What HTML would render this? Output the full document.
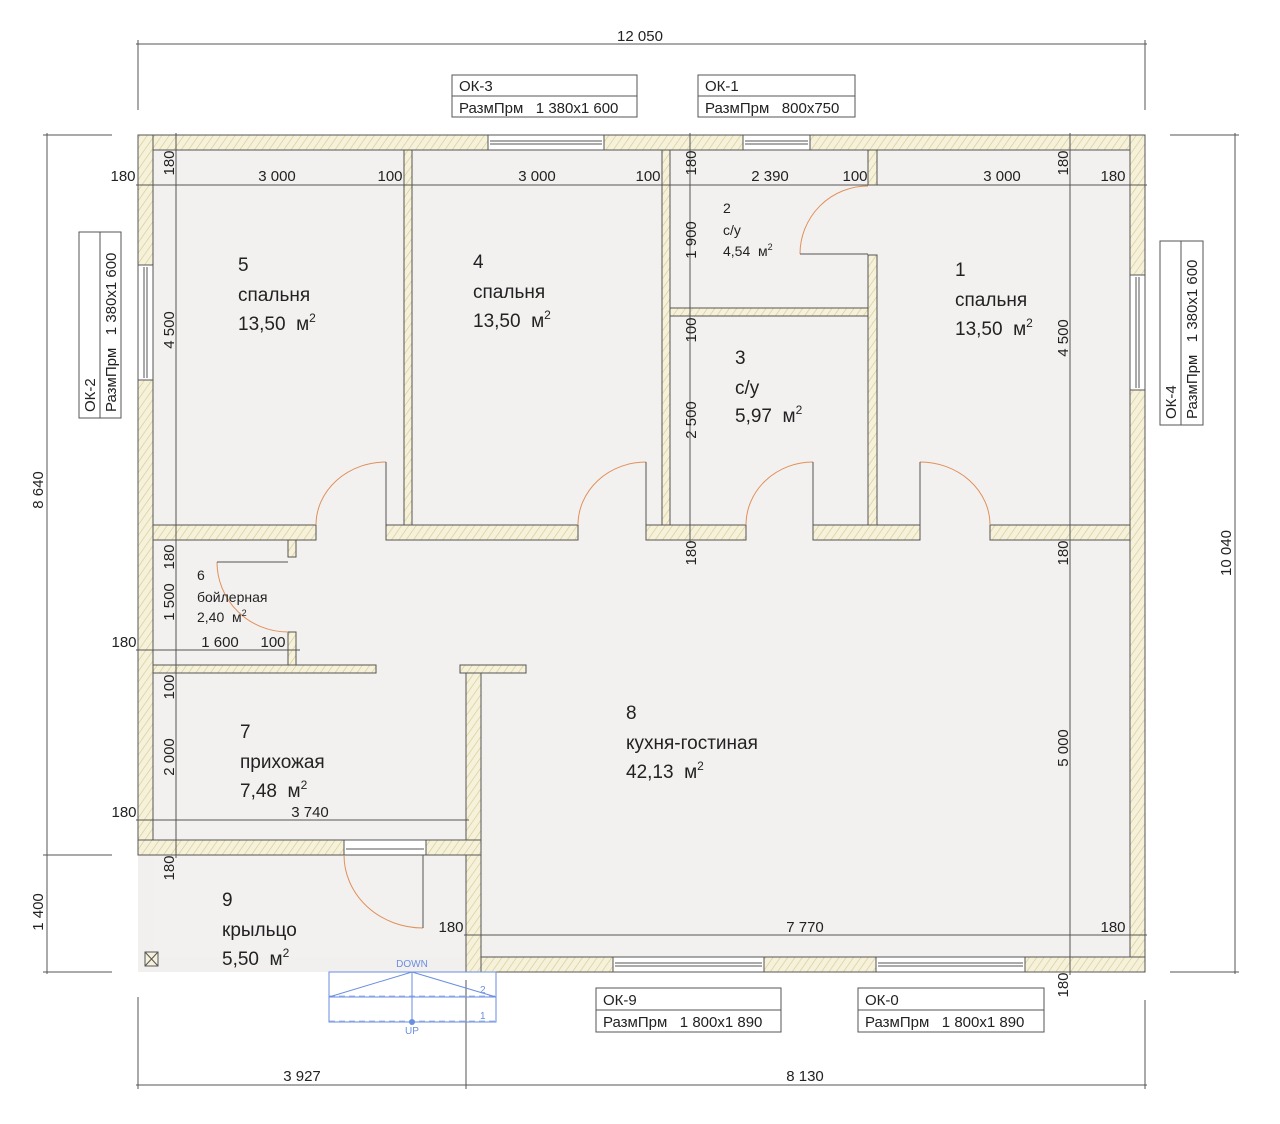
<!DOCTYPE html>
<html><head><meta charset="utf-8"><style>
html,body{margin:0;padding:0;background:#fff;}
svg{display:block;}
text{font-family:"Liberation Sans",sans-serif;fill:#222;white-space:pre;}
</style></head><body>
<svg width="1280" height="1124" viewBox="0 0 1280 1124" xmlns="http://www.w3.org/2000/svg" xml:space="preserve">
<defs>
<pattern id="h" width="6" height="6" patternUnits="userSpaceOnUse" patternTransform="rotate(35)">
<rect width="6" height="6" fill="#f6f1da"/>
<line x1="0" y1="0" x2="0" y2="6" stroke="#d6cb92" stroke-width="1.3"/>
</pattern>
</defs>
<rect x="138" y="855" width="328" height="117" fill="#f2f0ef"/>
<rect x="153" y="150" width="977" height="807" fill="#f3f1f0"/>
<g fill="url(#h)" stroke="#555" stroke-width="1">
<rect x="138" y="135" width="1007" height="15"/>
<rect x="138" y="135" width="15" height="720"/>
<rect x="1130" y="135" width="15" height="837"/>
<rect x="466" y="957" width="679" height="15"/>
<rect x="466" y="673" width="15" height="299"/>
<rect x="138" y="840" width="206" height="15"/>
<rect x="426" y="840" width="55" height="15"/>
<rect x="404" y="150" width="8" height="375"/>
<rect x="662" y="150" width="8" height="375"/>
<rect x="670" y="308" width="198" height="8"/>
<rect x="868" y="150" width="9" height="35"/>
<rect x="868" y="255" width="9" height="270"/>
<rect x="153" y="525" width="163" height="15"/>
<rect x="386" y="525" width="192" height="15"/>
<rect x="646" y="525" width="100" height="15"/>
<rect x="813" y="525" width="107" height="15"/>
<rect x="990" y="525" width="140" height="15"/>
<rect x="288" y="540" width="8" height="17"/>
<rect x="288" y="632" width="8" height="41"/>
<rect x="153" y="665" width="223" height="8"/>
<rect x="460" y="665" width="66" height="8"/>
</g>
<g fill="#fff" stroke="#555" stroke-width="1">
<rect x="488" y="135" width="116" height="15"/><line x1="490" y1="141" x2="602" y2="141"/><line x1="490" y1="144" x2="602" y2="144"/>
<rect x="743" y="135" width="67" height="15"/><line x1="745" y1="141" x2="808" y2="141"/><line x1="745" y1="144" x2="808" y2="144"/>
<rect x="138" y="265" width="15" height="115"/><line x1="144" y1="267" x2="144" y2="378"/><line x1="147" y1="267" x2="147" y2="378"/>
<rect x="1130" y="275" width="15" height="115"/><line x1="1136" y1="277" x2="1136" y2="388"/><line x1="1139" y1="277" x2="1139" y2="388"/>
<rect x="613" y="957" width="151" height="15"/><line x1="615" y1="963" x2="762" y2="963"/><line x1="615" y1="966" x2="762" y2="966"/>
<rect x="876" y="957" width="149" height="15"/><line x1="878" y1="963" x2="1023" y2="963"/><line x1="878" y1="966" x2="1023" y2="966"/>
<rect x="344" y="840" width="82" height="15"/><line x1="346" y1="849" x2="424" y2="849"/>
</g>
<g fill="none" stroke-width="1">
<path d="M316 525 A70 63 0 0 1 386 462" stroke="#e0905a"/><line x1="386" y1="462" x2="386" y2="525" stroke="#555"/>
<path d="M578 525 A68 63 0 0 1 646 462" stroke="#e0905a"/><line x1="646" y1="462" x2="646" y2="525" stroke="#555"/>
<path d="M746 525 A67 63 0 0 1 813 462" stroke="#e0905a"/><line x1="813" y1="462" x2="813" y2="525" stroke="#555"/>
<path d="M990 525 A70 63 0 0 0 920 462" stroke="#e0905a"/><line x1="920" y1="462" x2="920" y2="525" stroke="#555"/>
<path d="M868 186 A68 68 0 0 0 800 254" stroke="#e0905a"/><line x1="800" y1="254" x2="868" y2="254" stroke="#555"/>
<path d="M217 562 A71 70 0 0 0 288 632" stroke="#e0905a"/><line x1="217" y1="562" x2="288" y2="562" stroke="#555"/>
<path d="M344 855 A79 73 0 0 0 423 928" stroke="#e0905a"/><line x1="423" y1="855" x2="423" y2="928" stroke="#555"/>
</g>
<g stroke="#555" stroke-width="1" fill="none">
<line x1="136" y1="44" x2="1147" y2="44"/><line x1="138" y1="40" x2="138" y2="110"/><line x1="1145" y1="40" x2="1145" y2="110"/>
<line x1="47" y1="133" x2="47" y2="974"/><line x1="43" y1="135" x2="112" y2="135"/><line x1="43" y1="855" x2="112" y2="855"/><line x1="43" y1="972" x2="112" y2="972"/>
<line x1="1235" y1="133" x2="1235" y2="974"/><line x1="1170" y1="135" x2="1239" y2="135"/><line x1="1170" y1="972" x2="1239" y2="972"/>
<line x1="136" y1="1085" x2="1147" y2="1085"/><line x1="138" y1="997" x2="138" y2="1089"/><line x1="466" y1="980" x2="466" y2="1089"/><line x1="1145" y1="1000" x2="1145" y2="1089"/>
<line x1="136" y1="185" x2="1147" y2="185"/>
<line x1="176" y1="133" x2="176" y2="858"/>
<line x1="690" y1="133" x2="690" y2="543"/>
<line x1="1070" y1="133" x2="1070" y2="975"/>
<line x1="136" y1="650" x2="300" y2="650"/>
<line x1="136" y1="820" x2="469" y2="820"/>
<line x1="464" y1="935" x2="1147" y2="935"/>
</g>
<g stroke="#6a8ee0" stroke-width="1" fill="none">
<rect x="329" y="972" width="167" height="50"/>
<line x1="329" y1="997" x2="496" y2="997"/>
<line x1="329" y1="996" x2="496" y2="996" stroke-dasharray="6 4" opacity="0.6"/>
<line x1="329" y1="1021" x2="496" y2="1021" stroke-dasharray="6 4" opacity="0.6"/>
<line x1="329" y1="997" x2="412" y2="972"/><line x1="496" y1="997" x2="412" y2="972"/>
<line x1="412" y1="972" x2="412" y2="1022"/>
</g>
<circle cx="412" cy="1022" r="3" fill="#6a8ee0"/>
<g font-size="10">
<text x="412" y="967" text-anchor="middle" style="fill:#6a8ee0">DOWN</text>
<text x="412" y="1034" text-anchor="middle" style="fill:#6a8ee0">UP</text>
<text x="480" y="993" style="fill:#6a8ee0">2</text><text x="480" y="1019" style="fill:#6a8ee0">1</text>
</g>
<rect x="145" y="952" width="13" height="14" fill="#f6f1da" stroke="#555"/><path d="M145 952 L158 966 M158 952 L145 966" stroke="#555"/>
<g fill="#fff" stroke="#555" stroke-width="1">
<rect x="452" y="75" width="185" height="42"/><line x1="452" y1="96" x2="637" y2="96"/>
<rect x="698" y="75" width="157" height="42"/><line x1="698" y1="96" x2="855" y2="96"/>
<rect x="79" y="232" width="42" height="186"/><line x1="100" y1="232" x2="100" y2="418"/>
<rect x="1160" y="241" width="43" height="184"/><line x1="1181" y1="241" x2="1181" y2="425"/>
<rect x="596" y="988" width="185" height="44"/><line x1="596" y1="1010" x2="781" y2="1010"/>
<rect x="858" y="988" width="186" height="44"/><line x1="858" y1="1010" x2="1044" y2="1010"/>
</g>
<g font-size="15">
<text x="459" y="91">ОК-3</text><text x="459" y="113">РазмПрм   1 380х1 600</text>
<text x="705" y="91">ОК-1</text><text x="705" y="113">РазмПрм   800х750</text>
<text x="603" y="1005">ОК-9</text><text x="603" y="1027">РазмПрм   1 800х1 890</text>
<text x="865" y="1005">ОК-0</text><text x="865" y="1027">РазмПрм   1 800х1 890</text>
<text transform="translate(95,412) rotate(-90)">ОК-2</text><text transform="translate(116,412) rotate(-90)">РазмПрм   1 380х1 600</text>
<text transform="translate(1176,419) rotate(-90)">ОК-4</text><text transform="translate(1197,419) rotate(-90)">РазмПрм   1 380х1 600</text>
</g>
<g font-size="15">
<text x="640" y="41" text-anchor="middle">12 050</text>
<text transform="translate(43,490) rotate(-90)" text-anchor="middle">8 640</text>
<text transform="translate(43,912) rotate(-90)" text-anchor="middle">1 400</text>
<text transform="translate(1231,553) rotate(-90)" text-anchor="middle">10 040</text>
<text x="302" y="1081" text-anchor="middle">3 927</text>
<text x="805" y="1081" text-anchor="middle">8 130</text>
<text x="123" y="181" text-anchor="middle">180</text>
<text x="277" y="181" text-anchor="middle">3 000</text>
<text x="390" y="181" text-anchor="middle">100</text>
<text x="537" y="181" text-anchor="middle">3 000</text>
<text x="648" y="181" text-anchor="middle">100</text>
<text x="770" y="181" text-anchor="middle">2 390</text>
<text x="855" y="181" text-anchor="middle">100</text>
<text x="1002" y="181" text-anchor="middle">3 000</text>
<text x="1113" y="181" text-anchor="middle">180</text>
<text x="124" y="647" text-anchor="middle">180</text>
<text x="220" y="647" text-anchor="middle">1 600</text>
<text x="273" y="647" text-anchor="middle">100</text>
<text x="124" y="817" text-anchor="middle">180</text>
<text x="310" y="817" text-anchor="middle">3 740</text>
<text x="451" y="932" text-anchor="middle">180</text>
<text x="805" y="932" text-anchor="middle">7 770</text>
<text x="1113" y="932" text-anchor="middle">180</text>
<g text-anchor="middle">
<text transform="translate(174,163) rotate(-90)">180</text>
<text transform="translate(174,330) rotate(-90)">4 500</text>
<text transform="translate(174,557) rotate(-90)">180</text>
<text transform="translate(174,602) rotate(-90)">1 500</text>
<text transform="translate(174,687) rotate(-90)">100</text>
<text transform="translate(174,757) rotate(-90)">2 000</text>
<text transform="translate(174,868) rotate(-90)">180</text>
<text transform="translate(696,163) rotate(-90)">180</text>
<text transform="translate(696,240) rotate(-90)">1 900</text>
<text transform="translate(696,330) rotate(-90)">100</text>
<text transform="translate(696,420) rotate(-90)">2 500</text>
<text transform="translate(696,553) rotate(-90)">180</text>
<text transform="translate(1068,163) rotate(-90)">180</text>
<text transform="translate(1068,338) rotate(-90)">4 500</text>
<text transform="translate(1068,553) rotate(-90)">180</text>
<text transform="translate(1068,748) rotate(-90)">5 000</text>
<text transform="translate(1068,985) rotate(-90)">180</text>
</g>
</g>
<g font-size="19">
<text x="238" y="271">5</text><text x="238" y="301">спальня</text><text x="238" y="330">13,50  м<tspan font-size="12" dy="-8">2</tspan></text>
<text x="473" y="268">4</text><text x="473" y="298">спальня</text><text x="473" y="327">13,50  м<tspan font-size="12" dy="-8">2</tspan></text>
<text x="955" y="276">1</text><text x="955" y="306">спальня</text><text x="955" y="335">13,50  м<tspan font-size="12" dy="-8">2</tspan></text>
<text x="735" y="364">3</text><text x="735" y="394">с/у</text><text x="735" y="422">5,97  м<tspan font-size="12" dy="-8">2</tspan></text>
<text x="240" y="738">7</text><text x="240" y="768">прихожая</text><text x="240" y="797">7,48  м<tspan font-size="12" dy="-8">2</tspan></text>
<text x="626" y="719">8</text><text x="626" y="749">кухня-гостиная</text><text x="626" y="778">42,13  м<tspan font-size="12" dy="-8">2</tspan></text>
<text x="222" y="906">9</text><text x="222" y="936">крыльцо</text><text x="222" y="965">5,50  м<tspan font-size="12" dy="-8">2</tspan></text>
</g>
<g font-size="14">
<text x="723" y="213">2</text><text x="723" y="235">с/у</text><text x="723" y="256">4,54  м<tspan font-size="9" dy="-6">2</tspan></text>
<text x="197" y="580">6</text><text x="197" y="602">бойлерная</text><text x="197" y="622">2,40  м<tspan font-size="9" dy="-6">2</tspan></text>
</g>
</svg>
</body></html>
